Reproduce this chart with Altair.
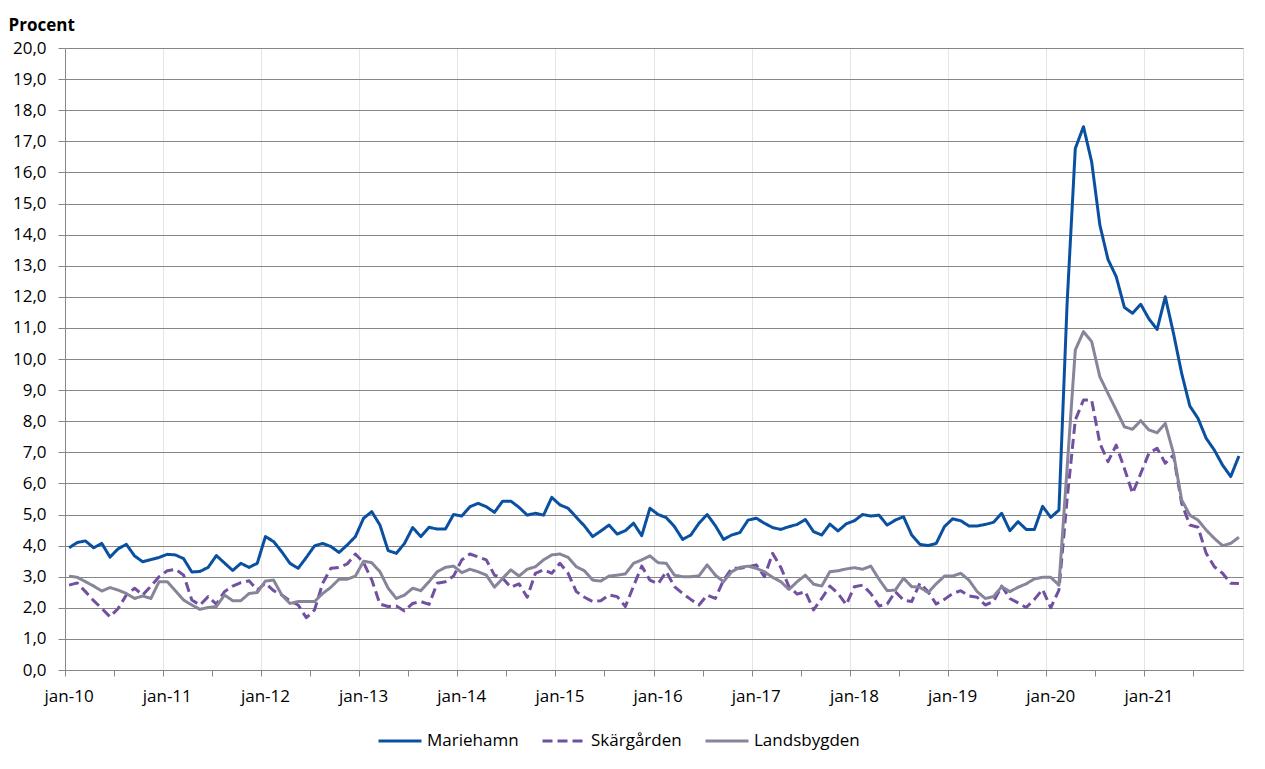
import altair as alt
import pandas as pd

# ---- data -------------------------------------------------------------
months_sv = ["jan", "feb", "mar", "apr", "maj", "jun", "jul", "aug", "sep", "okt", "nov", "dec"]
years = list(range(10, 22))
month_labels = [f"{m}-{y:02d}" for y in years for m in months_sv]

series_names = ["Mariehamn", "Skärgården", "Landsbygden"]
series_colors = ["#0A50A1", "#7150A2", "#87859A"]

mariehamn = [
    3.93, 4.10, 4.15, 3.93, 4.07, 3.63, 3.90, 4.04, 3.67, 3.48, 3.55, 3.62,
    3.72, 3.70, 3.58, 3.15, 3.17, 3.30, 3.68, 3.44, 3.20, 3.43, 3.30, 3.43,
    4.29, 4.13, 3.80, 3.43, 3.27, 3.62, 3.99, 4.07, 3.97, 3.78, 4.02, 4.29,
    4.88, 5.09, 4.66, 3.84, 3.75, 4.07, 4.58, 4.29, 4.59, 4.53, 4.53, 5.00,
    4.95, 5.25, 5.36, 5.25, 5.07, 5.43, 5.43, 5.23, 4.98, 5.04, 4.98, 5.55,
    5.31, 5.20, 4.91, 4.63, 4.29, 4.47, 4.66, 4.37, 4.48, 4.72, 4.32, 5.20,
    5.00, 4.90, 4.61, 4.20, 4.34, 4.72, 5.00, 4.64, 4.20, 4.34, 4.42, 4.82,
    4.88, 4.72, 4.58, 4.52, 4.61, 4.68, 4.84, 4.45, 4.34, 4.69, 4.47, 4.70,
    4.80, 5.00, 4.95, 4.98, 4.66, 4.82, 4.93, 4.34, 4.04, 4.00, 4.07, 4.61,
    4.86, 4.80, 4.63, 4.63, 4.68, 4.75, 5.04, 4.48, 4.77, 4.52, 4.52, 5.26,
    4.91, 5.14, 11.80, 16.77, 17.47, 16.34, 14.31, 13.20, 12.65, 11.66, 11.47, 11.76,
    11.29, 10.95, 12.00, 10.83, 9.54, 8.49, 8.09, 7.45, 7.07, 6.59, 6.22, 6.88,
]

skargarden = [
    2.73, 2.80, 2.52, 2.23, 1.98, 1.71, 1.98, 2.41, 2.63, 2.41, 2.70, 3.00,
    3.19, 3.24, 3.05, 2.25, 2.09, 2.36, 2.12, 2.52, 2.70, 2.81, 2.87, 2.57,
    2.79, 2.55, 2.41, 2.23, 2.09, 1.68, 1.93, 2.79, 3.27, 3.30, 3.41, 3.73,
    3.45, 2.90, 2.12, 2.04, 2.06, 1.90, 2.14, 2.20, 2.11, 2.79, 2.84, 3.02,
    3.54, 3.73, 3.64, 3.54, 3.05, 2.95, 2.66, 2.77, 2.34, 3.11, 3.22, 3.11,
    3.43, 3.11, 2.52, 2.34, 2.20, 2.23, 2.41, 2.36, 2.04, 2.70, 3.34, 2.89,
    2.77, 3.16, 2.68, 2.46, 2.27, 2.09, 2.41, 2.30, 2.89, 3.27, 3.27, 3.32,
    3.38, 3.00, 3.75, 3.30, 2.68, 2.44, 2.52, 1.93, 2.30, 2.70, 2.46, 2.10,
    2.68, 2.73, 2.46, 2.06, 2.12, 2.52, 2.25, 2.20, 2.79, 2.52, 2.12, 2.27,
    2.46, 2.55, 2.38, 2.34, 2.09, 2.20, 2.70, 2.30, 2.16, 2.01, 2.27, 2.59,
    2.00, 2.57, 5.50, 8.04, 8.68, 8.68, 7.29, 6.70, 7.23, 6.48, 5.68, 6.32,
    6.97, 7.13, 6.65, 6.91, 5.36, 4.66, 4.59, 3.75, 3.32, 3.11, 2.79, 2.78,
]

landsbygden = [
    3.02, 2.98, 2.84, 2.70, 2.54, 2.65, 2.57, 2.46, 2.30, 2.38, 2.30, 2.84,
    2.84, 2.55, 2.25, 2.09, 1.95, 2.01, 2.04, 2.41, 2.23, 2.23, 2.46, 2.49,
    2.86, 2.89, 2.41, 2.14, 2.20, 2.20, 2.20, 2.46, 2.66, 2.92, 2.92, 3.02,
    3.50, 3.45, 3.16, 2.63, 2.30, 2.41, 2.63, 2.55, 2.84, 3.16, 3.30, 3.34,
    3.13, 3.24, 3.16, 3.05, 2.66, 2.95, 3.22, 3.02, 3.24, 3.32, 3.54, 3.70,
    3.73, 3.62, 3.32, 3.19, 2.89, 2.86, 3.02, 3.05, 3.09, 3.43, 3.54, 3.67,
    3.45, 3.43, 3.05, 3.00, 3.00, 3.03, 3.38, 3.05, 2.84, 3.16, 3.30, 3.34,
    3.27, 3.16, 2.98, 2.84, 2.59, 2.84, 3.05, 2.76, 2.70, 3.16, 3.19, 3.25,
    3.29, 3.24, 3.34, 2.92, 2.55, 2.57, 2.95, 2.68, 2.66, 2.49, 2.77, 3.02,
    3.02, 3.11, 2.89, 2.52, 2.30, 2.36, 2.68, 2.52, 2.66, 2.77, 2.93, 2.98,
    2.98, 2.73, 6.50, 10.29, 10.88, 10.56, 9.43, 8.89, 8.36, 7.82, 7.74, 8.02,
    7.72, 7.63, 7.93, 6.97, 5.47, 4.98, 4.82, 4.50, 4.23, 4.00, 4.07, 4.27,
]

y_ticks = list(range(0, 21))
x_tick_values = month_labels[::6]

# ---- long table ---------------------------------------------------------
rows = []
for name, vals in zip(series_names, [mariehamn, skargarden, landsbygden]):
    for m, v in zip(month_labels, vals):
        rows.append({"manad": m, "serie": name, "procent": v})
df = pd.DataFrame(rows)

FONT = "Open Sans"
GRID = "#868686"

x_axis = alt.Axis(
    values=x_tick_values,
    bandPosition=0,
    labelExpr="indexof(datum.label, 'jan') === 0 ? datum.label : ''",
    labelAngle=0,
    labelFont=FONT,
    labelFontSize=17,
    labelColor="#000000",
    labelPadding=12,
    labelFlush=False,
    labelOverlap=False,
    tickSize=6,
    tickColor=GRID,
    domainColor=GRID,
    grid=True,
    gridColor="#E4E4E4",
    gridOpacity={"condition": {"test": "indexof(datum.value, 'jan') === 0", "value": 1}, "value": 0},
    title=None,
)

y_axis = alt.Axis(
    values=y_ticks,
    labelExpr="replace(format(datum.value, '.1f'), '.', ',')",
    labelFont=FONT,
    labelFontSize=17,
    labelColor="#000000",
    labelPadding=12,
    tickSize=7,
    tickColor=GRID,
    domainColor=GRID,
    gridColor=GRID,
    title="Procent",
    titleFont=FONT,
    titleFontSize=17,
    titleFontWeight="bold",
    titleColor="#000000",
    titleAngle=0,
    titleAlign="left",
    titleBaseline="alphabetic",
    titleX=-57,
    titleY=-18,
)

legend = alt.Legend(
    orient="none",
    legendX=312,
    legendY=670,
    direction="horizontal",
    symbolType="stroke",
    symbolSize=1849,
    symbolStrokeWidth=3,
    labelFont=FONT,
    labelFontSize=17,
    labelColor="#000000",
    labelOffset=4,
    columnPadding=17,
    padding=0,
    title=None,
)

chart = (
    alt.Chart(df)
    .mark_line(strokeWidth=3, strokeJoin="round")
    .encode(
        x=alt.X("manad:O", sort=month_labels,
                scale=alt.Scale(type="band", domain=month_labels, paddingInner=0, paddingOuter=0),
                axis=x_axis),
        y=alt.Y("procent:Q", scale=alt.Scale(domain=[0, 20], nice=False), axis=y_axis),
        color=alt.Color("serie:N", scale=alt.Scale(domain=series_names, range=series_colors),
                        legend=legend, title=None),
        strokeDash=alt.StrokeDash("serie:N", scale=alt.Scale(domain=series_names,
                                                              range=[[1, 0], [10, 5], [1, 0]]),
                                  legend=legend, title=None),
        detail="serie:N",
    )
    .properties(
        width=1178,
        height=622,
        padding={"left": 57, "top": 40, "right": 14, "bottom": 95},
        autosize=alt.AutoSizeParams(type="none"),
    )
    .configure_view(stroke=GRID, strokeWidth=1)
    .configure(background="white")
)

chart.save("out.html", embed_options={"renderer": "svg", "actions": False})
